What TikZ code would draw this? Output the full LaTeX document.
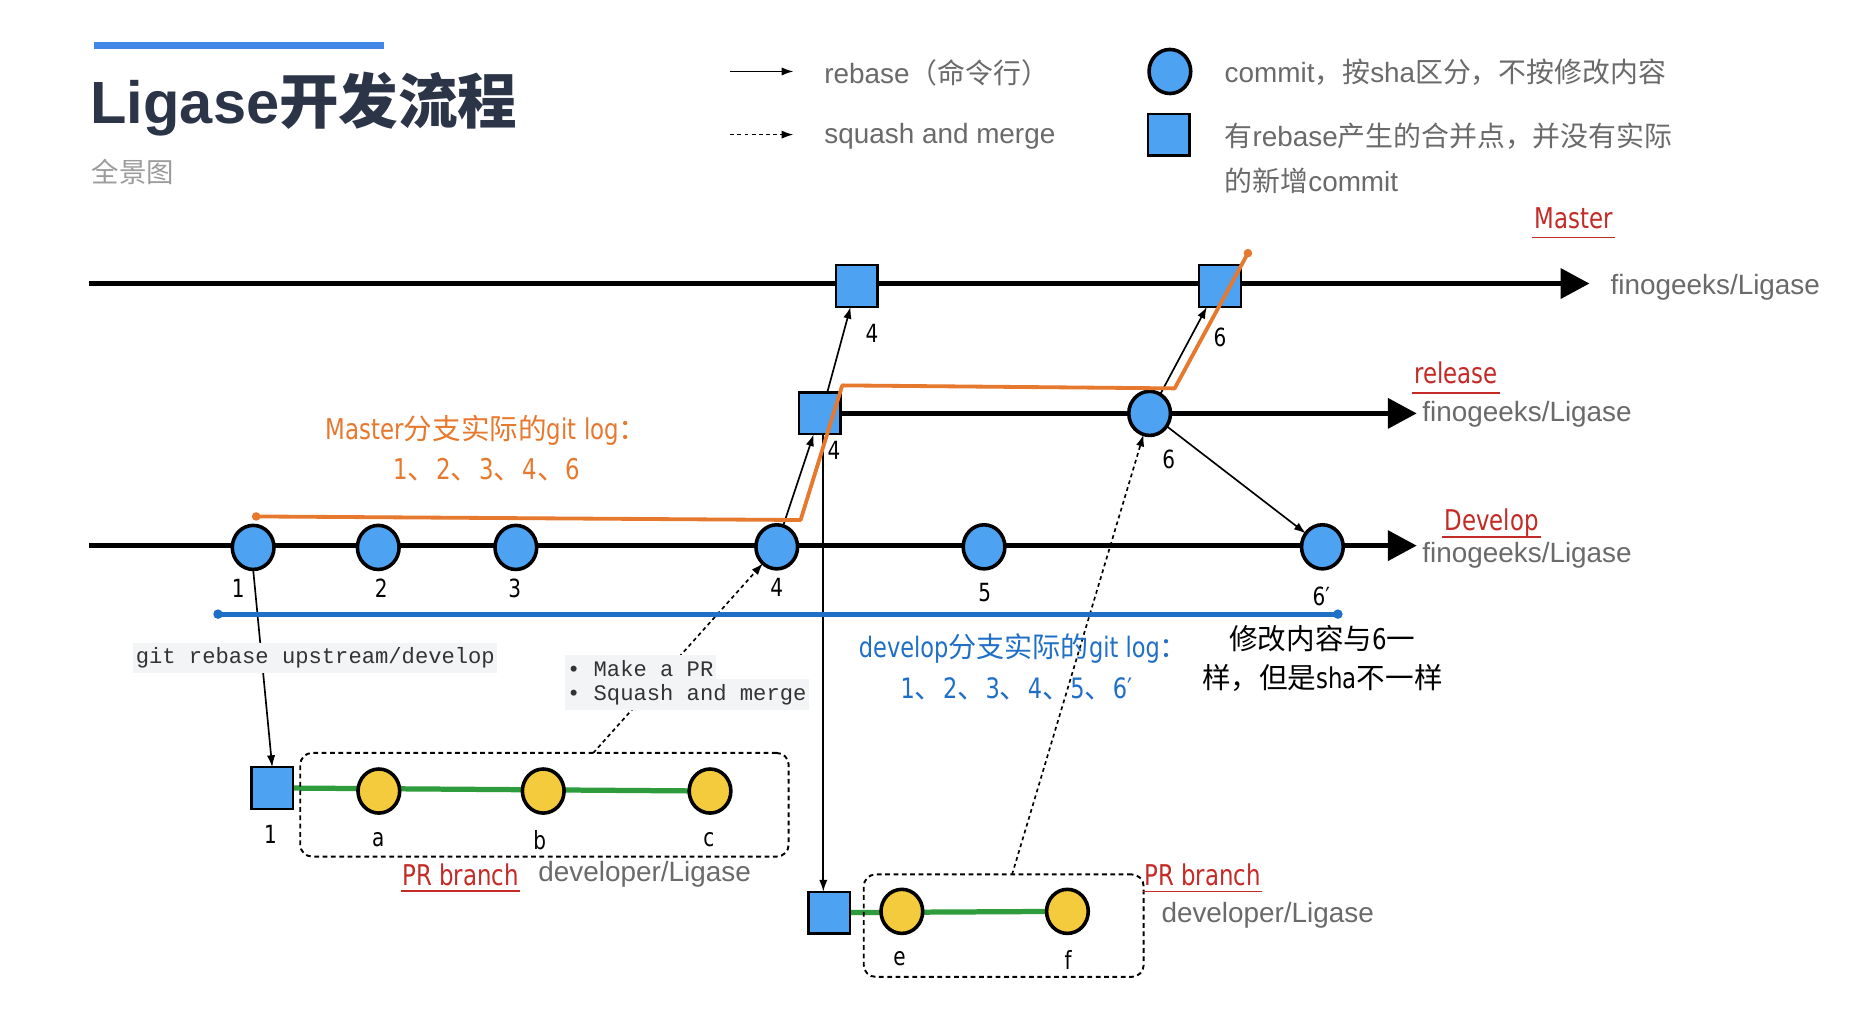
\documentclass[tikz,border=0pt]{standalone}
\usepackage{fontspec}
\setmainfont{Liberation Sans}
\setmonofont{Liberation Mono}
\newfontfamily\cjk{Noto Sans CJK SC}
\newfontfamily\hand{DejaVu Sans}[FakeStretch=0.8]
\usetikzlibrary{shapes.geometric,arrows.meta,calc,backgrounds}
\definecolor{cblue}{HTML}{4DA2F2}
\definecolor{cyel}{HTML}{F3CB3C}
\definecolor{cgreen}{HTML}{2E9B3C}
\definecolor{corange}{HTML}{E7792F}
\definecolor{cred}{HTML}{C42A26}
\definecolor{clog}{HTML}{1F6FC6}
\definecolor{ctitle}{HTML}{2C3448}
\definecolor{cgray}{HTML}{6A6A6A}
\definecolor{cgraylt}{HTML}{9B9B9B}
\definecolor{cbar}{HTML}{4286E8}
\definecolor{cmonobg}{HTML}{F3F4F6}
\newcommand\dunhao{{\cjk 、}}
\begin{document}
\begin{tikzpicture}[x=0.5pt,y=-0.5pt,
  every node/.style={inner sep=0pt,outer sep=0pt},
  commit/.style={ellipse,draw=black,line width=1.5pt,fill=cblue,minimum width=17.5pt,minimum height=18.5pt},
  pcommit/.style={commit,fill=cyel},
  sqnode/.style={rectangle,draw=black,line width=1pt,fill=cblue,minimum size=17.5pt},
  lgd/.style={anchor=west,text=cgray,font=\fontsize{11.7pt}{14pt}\selectfont},
  hw/.style={font=\hand\fontsize{10.5pt}{13pt}\selectfont},
  redlbl/.style={font=\hand\fontsize{12pt}{14pt}\selectfont,text=cred},
  underl/.style={draw=cred,line width=0.6pt},
  branch/.style={line width=2.2pt,draw=black},
  pline/.style={line width=2.2pt,draw=cgreen},
  conn/.style={line width=0.7pt,-{Latex[length=5pt,width=3.5pt]}},
  sqconn/.style={conn,dash pattern=on 1.6pt off 1.4pt},
  prbox/.style={rectangle,draw=black,rounded corners=5pt,line width=0.8pt,dash pattern=on 2pt off 1.5pt},
  monolbl/.style={anchor=west,fill=cmonobg,text=black!80,font=\ttfamily\fontsize{9.3pt}{11pt}\selectfont,inner xsep=1pt,inner ysep=2pt},
  headfill/.style={fill=black}
]
\useasboundingbox (0,0) rectangle (1568,856);

% ---------- title ----------
\fill[cbar] (79,35.5) rectangle (322,41);
\node[anchor=base west,text=ctitle,font=\bfseries\fontsize{25pt}{30pt}\selectfont] (title) at (76,103.5) {Ligase{\cjk 开发流程}};
\node[anchor=west,text=cgraylt,font=\cjk\fontsize{11.5pt}{14pt}\selectfont] (sub) at (77,144) {全景图};

% ---------- legend ----------
\coordinate (la1) at (613,60); \coordinate (la2) at (666,60);
\draw[conn] (la1) -- (la2);
\node[lgd] (l1) at (692,61) {rebase{\cjk （命令行）}};
\coordinate (lb1) at (613,113); \coordinate (lb2) at (666,113);
\draw[sqconn] (lb1) -- (lb2);
\node[lgd] (l2) at (692,114) {squash and merge};
\node[commit] (lc) at (982,60) {};
\node[sqnode] (ls) at (981,113) {};
\node[lgd] (l3) at (1028,61) {commit{\cjk ，按}sha{\cjk 区分，不按修改内容}};
\node[lgd] (l4) at (1028,114) {{\cjk 有}rebase{\cjk 产生的合并点，并没有实际}};
\node[lgd] (l5) at (1028,152) {{\cjk 的新增}commit};

% ---------- commits ----------
\node[commit] (d1) at (212.5,459.5) {};
\node[commit] (d2) at (317.5,459.5) {};
\node[commit] (d3) at (433,459.5) {};
\node[commit] (d4) at (652,459) {};
\node[commit] (d5) at (826,459) {};
\node[commit] (d6) at (1110,459) {};
\node[sqnode] (r4) at (688,347) {};
\node[commit] (r6) at (965,347) {};
\node[sqnode] (m4) at (719,240) {};
\node[sqnode] (m6) at (1024,240) {};
\node[sqnode] (p1) at (228.5,661.5) {};
\node[pcommit] (pa) at (318,664) {};
\node[pcommit] (pb) at (456,664) {};
\node[pcommit] (pc) at (596,664) {};
\node[sqnode] (q1) at (696,766) {};
\node[pcommit] (qe) at (757,765) {};
\node[pcommit] (qf) at (896,765) {};
\node[prbox,minimum width=205pt,minimum height=43.5pt] (box1) at (457,675.5) {};
\node[prbox,minimum width=117.5pt,minimum height=43pt] (box2) at (842.5,777) {};

% ---------- branch lines ----------
\coordinate (mS) at (75,238); \coordinate (mE) at (1310,238);
\coordinate (rE) at (1165,347);
\coordinate (dS) at (75,458); \coordinate (dE) at (1165,458);
\begin{scope}[on background layer]
\fill[white] (0,0) rectangle (1568,856);
\draw[branch] (mS) -- (mE);
\draw[branch] (r4.east) -- (rE);
\draw[branch] (dS) -- (dE);
\draw[pline] (p1.east) -- (pc.center);
\draw[pline] (q1.east) -- (qf.center);
\end{scope}
\fill[headfill] ([yshift=6.5pt]mE) -- ([xshift=12pt]mE) -- ([yshift=-6.5pt]mE) -- cycle;
\fill[headfill] ([yshift=6.5pt]rE) -- ([xshift=12pt]rE) -- ([yshift=-6.5pt]rE) -- cycle;
\fill[headfill] ([yshift=6.5pt]dE) -- ([xshift=12pt]dE) -- ([yshift=-6.5pt]dE) -- cycle;

% ---------- connectors ----------
\draw[conn] (d4.73) -- (r4.-106);
\draw[conn] (r4.70) -- (m4.-106);
\draw[conn] (r6.61) -- (m6.-122);
\draw[conn] (r6.-37) -- (d6.141);
\draw[conn] (d1.south) -- (p1.north);
\draw[conn] (r4.-80) -- (r4.-80 |- q1.north);
\draw[sqconn] ($(box1.north west)!0.6!(box1.north east)$) -- (d4.-130);
\draw[sqconn] ($(box2.north west)!0.53!(box2.north east)$) -- (r6.-106);

% ---------- labels with background ----------
\node[monolbl] (gitlbl) at (112,552) {git rebase upstream/develop};
\node[monolbl] (mk1) at (474,561) {• Make a PR};
\node[monolbl] (mk2) at (474,583) {• Squash and merge};

% ---------- commit labels ----------
\node[hw] (n1) at (200,494) {1};
\node[hw] (n2) at (320,494) {2};
\node[hw] (n3) at (432,494) {3};
\node[hw] (n4) at (652,493) {4};
\node[hw] (n5) at (826.5,497) {5};
\node[hw] (n6) at (1109,501) {6′};
\node[hw] (nm4) at (732,280) {4};
\node[hw] (nm6) at (1024,283) {6};
\node[hw] (nr4) at (700,378) {4};
\node[hw] (nr6) at (981,386) {6};
\node[hw] (np1) at (227,700) {1};
\node[hw] (npa) at (317.5,705) {a};
\node[hw] (npb) at (453,705) {b};
\node[hw] (npc) at (595,705) {c};
\node[hw] (nqe) at (755,805) {e};
\node[hw] (nqf) at (896.5,806) {f};

% ---------- branch names ----------
\node[redlbl] (tm) at (1321,183) {Master};
\draw[underl] ($(tm.base west)+(-2,8)$) -- ($(tm.base east)+(2,8)$);
\node[redlbl] (tr) at (1222,313) {release};
\draw[underl] ($(tr.base west)+(-2,8)$) -- ($(tr.base east)+(2,8)$);
\node[redlbl] (td) at (1252,439) {Develop};
\draw[underl] ($(td.base west)+(-2,5)$) -- ($(td.base east)+(2,5)$);
\node[redlbl] (tp1) at (386.5,734) {PR branch};
\draw[underl] ($(tp1.base west)+(-1,5)$) -- ($(tp1.base east)+(1,5)$);
\node[redlbl] (tp2) at (1009.5,734.5) {PR branch};
\draw[underl] ($(tp2.base west)+(-1,5)$) -- ($(tp2.base east)+(1,5)$);

\node[lgd] (fm) at (1352,241) {finogeeks/Ligase};
\node[lgd] (fr) at (1194,348) {finogeeks/Ligase};
\node[lgd] (fd) at (1194,466) {finogeeks/Ligase};
\node[lgd] (dv1) at (452,734) {developer/Ligase};
\node[lgd] (dv2) at (975,768) {developer/Ligase};

% ---------- log annotations ----------
\coordinate (o1) at (215,433.5); \coordinate (o2) at (672,436.5);
\coordinate (o3) at (707,323.5); \coordinate (o4) at (986,326);
\coordinate (o5) at (1047.5,212.5);
\draw[corange,line width=1.6pt,line join=round,line cap=round] (o1) -- (o2) -- (o3) -- (o4) -- (o5);
\fill[corange] (o1) circle (1.8pt) (o5) circle (1.8pt);
\node[font=\hand\fontsize{12pt}{14pt}\selectfont,text=corange] (olog1) at (408.5,361) {Master{\cjk 分支实际的}git log{\cjk ：}};
\node[font=\hand\fontsize{12pt}{14pt}\selectfont,text=corange,anchor=west] (olog2) at (330,394.5) {1\dunhao 2\dunhao 3\dunhao 4\dunhao 6};

\coordinate (b1) at (183,515.5); \coordinate (b2) at (1123,515.5);
\draw[clog,line width=2pt,line cap=round] (b1) -- (b2);
\fill[clog] (b1) circle (2pt) (b2) circle (2pt);
\node[font=\hand\fontsize{11.8pt}{14pt}\selectfont,text=clog,anchor=west] (blog1) at (721,544) {develop{\cjk 分支实际的}git log{\cjk ：}};
\node[font=\hand\fontsize{11.8pt}{14pt}\selectfont,text=clog,anchor=west] (blog2) at (756,578) {1\dunhao 2\dunhao 3\dunhao 4\dunhao 5\dunhao 6′};

\node[font=\hand\fontsize{12pt}{14pt}\selectfont] (note1) at (1110,536) {{\cjk 修改内容与}6{\cjk 一}};
\node[font=\hand\fontsize{12pt}{14pt}\selectfont] (note2) at (1110,569) {{\cjk 样，但是}sha{\cjk 不一样}};
\end{tikzpicture}
\end{document}
